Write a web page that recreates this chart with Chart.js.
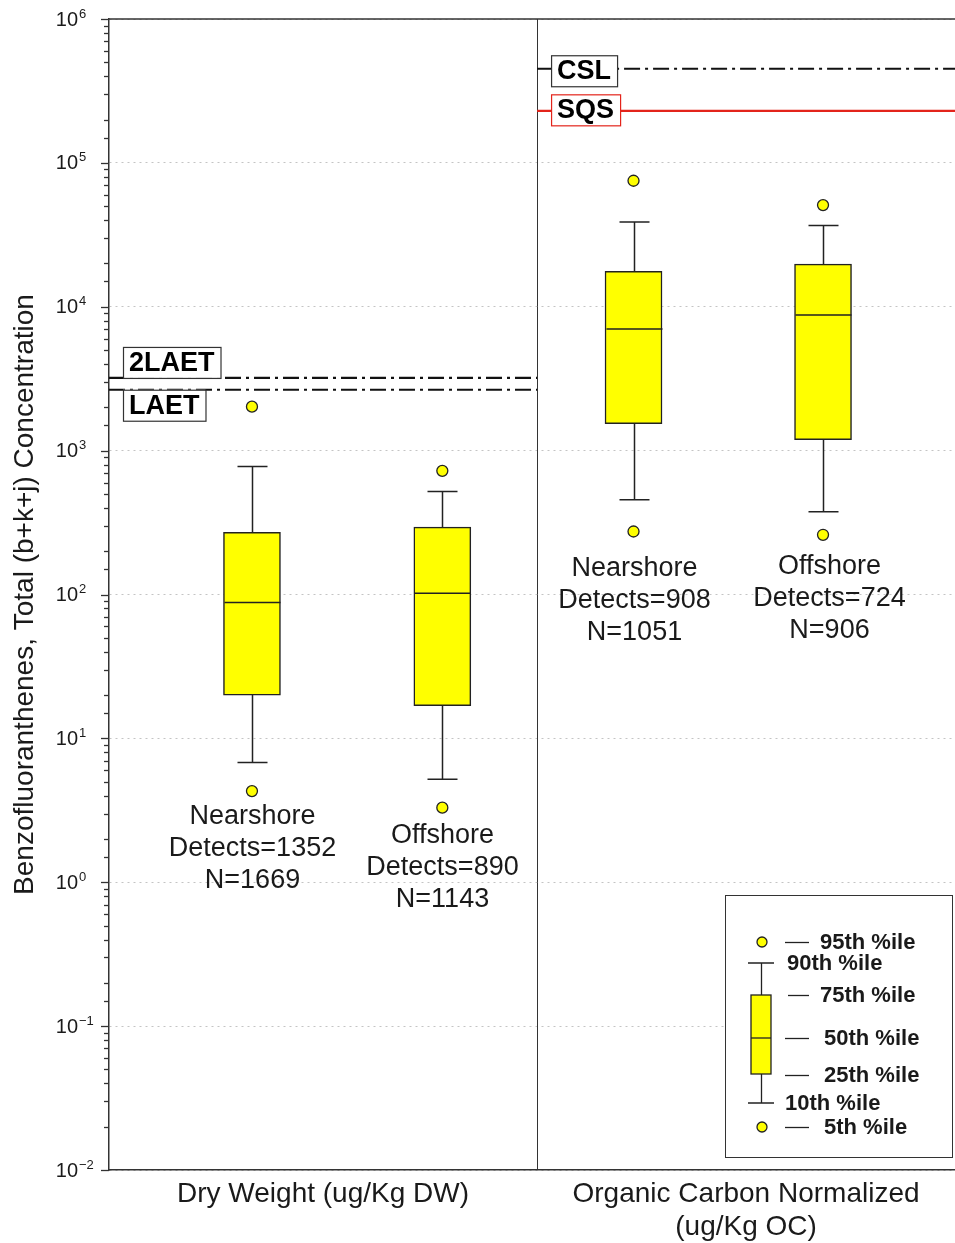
<!DOCTYPE html>
<html>
<head>
<meta charset="utf-8">
<title>Benzofluoranthenes</title>
<script src="https://cdn.jsdelivr.net/npm/chart.js@4.4.0/dist/chart.umd.min.js"></script>
<style>
  html, body { margin: 0; padding: 0; background: #fff; }
</style>
</head>
<body>
<canvas id="box-chart" width="955" height="1243"></canvas>
<script>
// percentile values
const groups = ["Nearshore", "Offshore", "Nearshore", "Offshore"];
const detects = [1352, 890, 908, 724];
const counts = [1669, 1143, 1051, 906];
const p5 = [4.3, 3.3, 274, 260];
const p10 = [6.8, 5.2, 455, 376];
const p25 = [20, 16.9, 1540, 1190];
const p50 = [88, 102, 7000, 8750];
const p75 = [270, 294, 17600, 19800];
const p90 = [776, 520, 38800, 36700];
const p95 = [2020, 724, 75100, 50900];
const sections = ["Dry Weight (ug/Kg DW)", ["Organic Carbon Normalized", "(ug/Kg OC)"]];
const yTickExponents = [-2, -1, 0, 1, 2, 3, 4, 5, 6];
const guideNames = ["2LAET", "LAET", "CSL", "SQS"];
const guideValues = [3200, 2650, 451000, 230000];

// layout on the x axis (0..10)
const xPos = [1.69, 3.94, 6.2, 8.44];
const dividerX = 5.06;
const sectionCenters = [2.53, 7.53];
const labelGap = [25, 28, 37, 32];

const FONT = "'Liberation Sans', Arial, sans-serif";
const INK = "#1a1a1a";
const YELLOW = "#ffff00";

function isMajor(v) {
  const l = Math.log10(v);
  return Math.abs(l - Math.round(l)) < 1e-9;
}

const boxData = xPos.map((x, i) => ({ x: x, y: [p25[i], p75[i]] }));
const pointData = xPos.map((x, i) => ({ x: x, y: p5[i] }))
  .concat(xPos.map((x, i) => ({ x: x, y: p95[i] })));

const framePlugin = {
  id: "frame",
  beforeDatasetsDraw(chart) {
    const { ctx, chartArea } = chart;
    const xs = chart.scales.x;
    ctx.save();
    ctx.strokeStyle = "#333";
    ctx.lineWidth = 1.5;
    ctx.beginPath();
    ctx.moveTo(chartArea.left, chartArea.top);
    ctx.lineTo(chartArea.right, chartArea.top);
    ctx.stroke();
    ctx.lineWidth = 1;
    const dx = Math.round(xs.getPixelForValue(dividerX)) + 0.5;
    ctx.beginPath();
    ctx.moveTo(dx, chartArea.top);
    ctx.lineTo(dx, chartArea.bottom);
    ctx.stroke();
    ctx.restore();
  },
  afterDraw(chart) {
    // y tick marks and 10^n labels
    const { ctx, chartArea } = chart;
    const ys = chart.scales.y;
    ctx.save();
    ctx.strokeStyle = "#333";
    ctx.lineWidth = 1.3;
    ys.ticks.forEach((t) => {
      const y = Math.round(ys.getPixelForValue(t.value)) + 0.5;
      const len = isMajor(t.value) ? 8 : 5;
      ctx.beginPath();
      ctx.moveTo(chartArea.left - len, y);
      ctx.lineTo(chartArea.left, y);
      ctx.stroke();
    });
    ctx.fillStyle = INK;
    ctx.textBaseline = "middle";
    yTickExponents.forEach((e) => {
      const y = ys.getPixelForValue(Math.pow(10, e));
      ctx.font = "20px " + FONT;
      ctx.textAlign = "right";
      ctx.fillText("10", chartArea.left - 31, y + 1);
      ctx.font = "13px " + FONT;
      ctx.textAlign = "left";
      ctx.fillText(String(e).replace("-", "\u2212"), chartArea.left - 30, y - 5);
    });
    ctx.restore();
  }
};

const boxPlugin = {
  id: "whiskers",
  afterDatasetsDraw(chart) {
    const { ctx } = chart;
    const xs = chart.scales.x;
    const ys = chart.scales.y;
    ctx.save();
    ctx.strokeStyle = "#222";
    ctx.lineWidth = 1.5;
    xPos.forEach((xv, i) => {
      const x = Math.round(xs.getPixelForValue(xv)) + 0.5;
      const y10 = ys.getPixelForValue(p10[i]);
      const y25 = ys.getPixelForValue(p25[i]);
      const y50 = ys.getPixelForValue(p50[i]);
      const y75 = ys.getPixelForValue(p75[i]);
      const y90 = ys.getPixelForValue(p90[i]);
      ctx.beginPath();
      ctx.moveTo(x, y75); ctx.lineTo(x, y90);
      ctx.moveTo(x - 15, y90); ctx.lineTo(x + 15, y90);
      ctx.moveTo(x, y25); ctx.lineTo(x, y10);
      ctx.moveTo(x - 15, y10); ctx.lineTo(x + 15, y10);
      ctx.moveTo(x - 28, y50); ctx.lineTo(x + 28, y50);
      ctx.stroke();

      // group labels under the 5th percentile dot
      const y0 = ys.getPixelForValue(p5[i]) + labelGap[i];
      const tx = x + (i === 3 ? 6 : 0);
      ctx.fillStyle = INK;
      ctx.font = "27px " + FONT;
      ctx.textAlign = "center";
      ctx.textBaseline = "middle";
      ctx.fillText(groups[i], tx, y0);
      ctx.fillText("Detects=" + detects[i], tx, y0 + 32);
      ctx.fillText("N=" + counts[i], tx, y0 + 64);
    });
    ctx.restore();
  }
};

const guidePlugin = {
  id: "guides",
  afterDatasetsDraw(chart) {
    const { ctx, chartArea } = chart;
    const xs = chart.scales.x;
    const ys = chart.scales.y;
    const dx = xs.getPixelForValue(dividerX);
    ctx.save();
    guideNames.forEach((name, i) => {
      const y = ys.getPixelForValue(guideValues[i]);
      const inDW = i < 2;
      const x0 = inDW ? chartArea.left : dx;
      const x1 = inDW ? dx : chartArea.right;
      const red = name === "SQS";
      ctx.strokeStyle = red ? "#e3241b" : "#111";
      ctx.lineWidth = 2.2;
      ctx.setLineDash(red ? [] : [16, 5, 3, 5]);
      ctx.beginPath();
      ctx.moveTo(x0, y);
      ctx.lineTo(x1, y);
      ctx.stroke();
      ctx.setLineDash([]);

      ctx.font = "bold 27px " + FONT;
      const w = ctx.measureText(name).width + 12;
      const h = 31;
      const bx = x0 + 14;
      let by;
      if (inDW) by = i === 0 ? y - h : y;
      else by = y - h / 2 + (red ? -1 : 2);
      ctx.fillStyle = "#fff";
      ctx.fillRect(bx, by, w, h);
      ctx.lineWidth = 1.2;
      ctx.strokeStyle = red ? "#e3241b" : "#333";
      ctx.strokeRect(bx + 0.5, by + 0.5, w, h);
      ctx.fillStyle = "#000";
      ctx.textAlign = "left";
      ctx.textBaseline = "middle";
      ctx.fillText(name, bx + 6, by + h / 2 + 1);
    });
    ctx.restore();
  }
};

const legendPlugin = {
  id: "boxLegend",
  afterDraw(chart) {
    const { ctx, chartArea } = chart;
    const L = chartArea.right - 230;
    const T = chartArea.bottom - 275;
    ctx.save();
    ctx.fillStyle = "#fff";
    ctx.fillRect(L, T, 227, 262);
    ctx.strokeStyle = "#333";
    ctx.lineWidth = 1;
    ctx.strokeRect(L + 0.5, T + 0.5, 227, 262);

    ctx.strokeStyle = "#222";
    ctx.lineWidth = 1.3;
    ctx.beginPath();
    ctx.moveTo(L + 36.5, T + 68); ctx.lineTo(L + 36.5, T + 100);
    ctx.moveTo(L + 36.5, T + 179); ctx.lineTo(L + 36.5, T + 208);
    ctx.moveTo(L + 23, T + 68); ctx.lineTo(L + 49, T + 68);
    ctx.moveTo(L + 23, T + 208); ctx.lineTo(L + 49, T + 208);
    ctx.stroke();
    ctx.fillStyle = YELLOW;
    ctx.fillRect(L + 26, T + 100, 20, 79);
    ctx.strokeRect(L + 26, T + 100, 20, 79);
    ctx.beginPath();
    ctx.moveTo(L + 26, T + 143); ctx.lineTo(L + 46, T + 143);
    ctx.stroke();
    [47, 232].forEach((cy) => {
      ctx.beginPath();
      ctx.arc(L + 37, T + cy, 5, 0, Math.PI * 2);
      ctx.fillStyle = YELLOW;
      ctx.fill();
      ctx.stroke();
    });

    const rows = [
      { y: 47, dash: [60, 84], tx: 95, t: "95th %ile" },
      { y: 68, dash: null, tx: 62, t: "90th %ile" },
      { y: 100, dash: [63, 84], tx: 95, t: "75th %ile" },
      { y: 143, dash: [60, 84], tx: 99, t: "50th %ile" },
      { y: 180, dash: [60, 84], tx: 99, t: "25th %ile" },
      { y: 208, dash: null, tx: 60, t: "10th %ile" },
      { y: 232, dash: [60, 84], tx: 99, t: "5th %ile" }
    ];
    ctx.font = "bold 22px " + FONT;
    ctx.textAlign = "left";
    ctx.textBaseline = "middle";
    rows.forEach((r) => {
      if (r.dash) {
        ctx.beginPath();
        ctx.moveTo(L + r.dash[0], T + r.y + 0.5);
        ctx.lineTo(L + r.dash[1], T + r.y + 0.5);
        ctx.stroke();
      }
      ctx.fillStyle = INK;
      ctx.fillText(r.t, L + r.tx, T + r.y + 1);
    });
    ctx.restore();
  }
};

const ctx = document.getElementById("box-chart").getContext("2d");
const chart = new Chart(ctx, {
  type: "bar",
  data: {
    datasets: [
      {
        type: "bar",
        label: "25th-75th",
        data: boxData,
        backgroundColor: YELLOW,
        borderColor: "#222",
        borderWidth: 1.5,
        borderSkipped: false,
        barThickness: 57
      },
      {
        type: "line",
        label: "5th / 95th",
        data: pointData,
        showLine: false,
        pointRadius: 5.5,
        pointBackgroundColor: YELLOW,
        pointBorderColor: "#222",
        pointBorderWidth: 1.3
      }
    ]
  },
  options: {
    responsive: false,
    animation: false,
    layout: { autoPadding: false, padding: { top: 19, right: 0, left: 0, bottom: 0 } },
    plugins: {
      legend: { display: false },
      tooltip: { enabled: false }
    },
    scales: {
      x: {
        type: "linear",
        min: 0,
        max: 10,
        offset: false,
        afterBuildTicks: (scale) => {
          scale.ticks = sectionCenters.map((v) => ({ value: v }));
        },
        afterFit: (scale) => {
          scale.height = 73;
          scale.paddingLeft = 0;
          scale.paddingRight = 0;
        },
        grid: { display: false, drawTicks: false },
        border: { display: true, color: "#333", width: 1.5 },
        ticks: {
          autoSkip: false,
          maxRotation: 0,
          padding: 7,
          color: INK,
          font: { family: FONT, size: 28 },
          callback: (value, index) => sections[index]
        }
      },
      y: {
        type: "logarithmic",
        min: 0.01,
        max: 1000000,
        afterFit: (scale) => {
          scale.width = 109;
          scale.paddingTop = 0;
          scale.paddingBottom = 0;
        },
        grid: {
          drawTicks: false,
          color: (c) => (c.tick && isMajor(c.tick.value) ? "#c4c4c4" : "rgba(0,0,0,0)"),
          lineWidth: 1
        },
        border: { display: true, color: "#333", width: 1.5, dash: [2, 4] },
        ticks: { display: false },
        title: {
          display: true,
          text: "Benzofluoranthenes, Total (b+k+j) Concentration",
          color: INK,
          font: { family: FONT, size: 28 },
          padding: { top: 8, bottom: 0 }
        }
      }
    }
  },
  plugins: [framePlugin, boxPlugin, guidePlugin, legendPlugin]
});
</script>
</body>
</html>
